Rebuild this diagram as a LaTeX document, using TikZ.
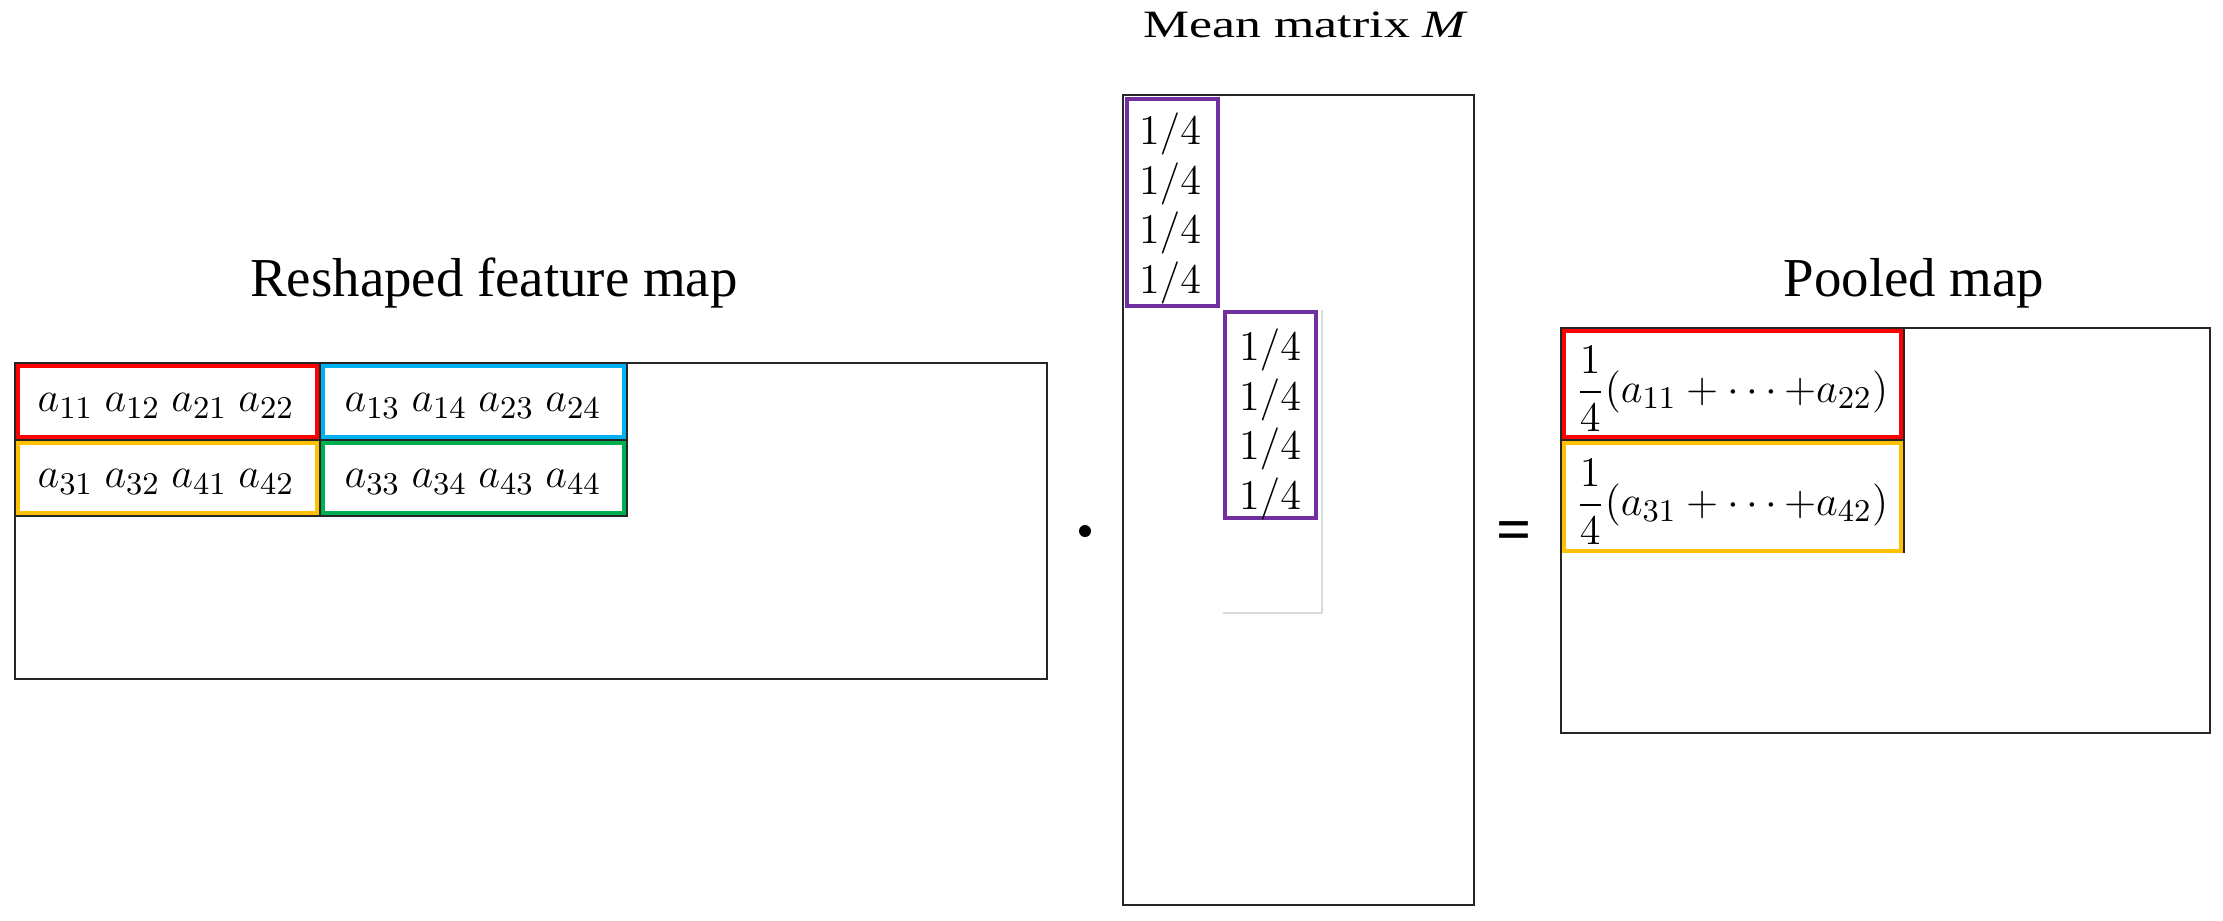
\documentclass[tikz,border=0pt]{standalone}
\usepackage[no-math]{fontspec}
\setmainfont{Liberation Serif}
\usepackage{amsmath}
\usepackage{graphicx}
\definecolor{poolred}{RGB}{255,0,0}
\definecolor{poolblue}{RGB}{0,176,240}
\definecolor{poolyellow}{RGB}{255,192,0}
\definecolor{poolgreen}{RGB}{0,176,80}
\definecolor{poolpurple}{RGB}{112,48,160}

\begin{document}
\begin{tikzpicture}[x=0.01cm,y=-0.01cm,
    frame/.style={draw=black!85,line width=0.6pt},
    cellbox/.style={line width=1.25pt},
    title/.style={anchor=base,inner sep=0pt,font=\fontsize{15.6}{18}\selectfont},
    entry/.style={inner sep=0pt,font=\fontsize{12.5}{15}\selectfont}]

\useasboundingbox (0,0) rectangle (2223,920);

% reshaped feature map
\coordinate (f1) at (15,363);
\coordinate (f2) at (1047,679);
\draw[frame] (f1) rectangle (f2);
\draw[frame] (15,440) -- (627,440) (320,363) -- (320,516) (15,516) -- (627,516) -- (627,363);
\node[title] (ftitle) at (494,296) {Reshaped feature map};

\draw[cellbox,poolred] (18,366) rectangle (317,437);
\draw[cellbox,poolblue] (323,366) rectangle (624,437);
\draw[cellbox,poolyellow] (18,443) rectangle (317,513);
\draw[cellbox,poolgreen] (323,443) rectangle (624,513);
\node[entry] (c1) at (166,406) {$a_{11}\ a_{12}\ a_{21}\ a_{22}$};
\node[entry] (c2) at (473,406) {$a_{13}\ a_{14}\ a_{23}\ a_{24}$};
\node[entry] (c3) at (166,482) {$a_{31}\ a_{32}\ a_{41}\ a_{42}$};
\node[entry] (c4) at (473,482) {$a_{33}\ a_{34}\ a_{43}\ a_{44}$};

\fill (1085,531) circle (6);

% mean matrix
\node[anchor=base,inner sep=0pt,font=\fontsize{11}{13}\selectfont] (mtitle) at (1306,37)
  {\scalebox{1.34}[1]{Mean matrix \textit{M}}};
\coordinate (m1) at (1123,95);
\coordinate (m2) at (1474,905);
\draw[frame] (m1) rectangle (m2);
\draw[black!15,line width=0.4pt] (1322,310) -- (1322,613) -- (1223,613);
\draw[cellbox,poolpurple] (1127,99) rectangle (1218,306);
\draw[cellbox,poolpurple] (1225,312) rectangle (1316,518);
\foreach \k in {0,...,3} {
  \node[entry] (ma\k) at (1170,{134+49.7*\k}) {$1/4$};
  \node[entry] (mb\k) at (1270,{350+49.7*\k}) {$1/4$};
}

\node[anchor=base,inner sep=0pt,font=\fontsize{17.6}{20}\selectfont\bfseries] (eqsign) at (1514,550) {=};

% pooled map
\node[title] (ptitle) at (1914,296) {Pooled map};
\coordinate (p1) at (1561,328);
\coordinate (p2) at (2210,733);
\draw[frame] (p1) rectangle (p2);
\draw[frame] (1561,440) -- (1904,440) (1904,328) -- (1904,553);
\draw[cellbox,poolred] (1564,331) rectangle (1901,437);
\draw[cellbox,poolyellow] (1564,443) rectangle (1901,551);
\node[entry,anchor=west,font=\fontsize{12.3}{14}\selectfont] (s1) at (1575,389)
  {$\dfrac{1}{4}(a_{11}+\cdots{+}a_{22})$};
\node[entry,anchor=west,font=\fontsize{12.3}{14}\selectfont] (s2) at (1575,502)
  {$\dfrac{1}{4}(a_{31}+\cdots{+}a_{42})$};
\end{tikzpicture}
\end{document}
